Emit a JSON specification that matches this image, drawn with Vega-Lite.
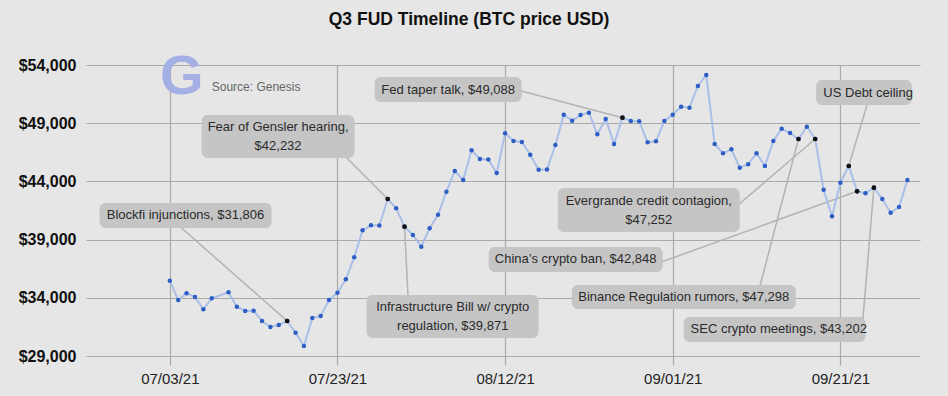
{
  "$schema": "https://vega.github.io/schema/vega-lite/v6.json",
  "width": 834,
  "height": 291,
  "autosize": {"type": "none"},
  "padding": {"left": 86, "top": 65, "right": 28, "bottom": 40},
  "background": "#e6e6e6",
  "title": {
    "text": "Q3 FUD Timeline (BTC price USD)",
    "font": "Liberation Sans",
    "fontSize": 17.5,
    "fontWeight": "bold",
    "color": "#111111",
    "anchor": "middle",
    "frame": "bounds",
    "offset": 20
  },
  "config": {
    "view": {"stroke": null},
    "font": "Liberation Sans",
    "axisX": {
      "grid": true, "gridColor": "#aaaaaa", "gridWidth": 1.2,
      "domain": false, "ticks": true, "tickColor": "#aaaaaa", "tickWidth": 1.2, "tickSize": 9,
      "labelFont": "Liberation Sans", "labelFontSize": 15, "labelColor": "#222222", "labelPadding": 6,
      "title": null
    },
    "axisY": {
      "grid": true, "gridColor": "#aaaaaa", "gridWidth": 1.2,
      "domain": false, "ticks": false, "tickSize": 0,
      "labelFont": "Liberation Sans", "labelFontSize": 16, "labelFontWeight": "bold", "labelColor": "#111111", "labelPadding": 10,
      "title": null
    }
  },
  "datasets": {
    "btc": [
      {"date": "2021-07-03", "price": 35469},
      {"date": "2021-07-04", "price": 33811},
      {"date": "2021-07-05", "price": 34387},
      {"date": "2021-07-06", "price": 34069},
      {"date": "2021-07-07", "price": 33012},
      {"date": "2021-07-08", "price": 33957},
      {"date": "2021-07-10", "price": 34473},
      {"date": "2021-07-11", "price": 33236},
      {"date": "2021-07-12", "price": 32866},
      {"date": "2021-07-13", "price": 32892},
      {"date": "2021-07-14", "price": 32007},
      {"date": "2021-07-15", "price": 31492},
      {"date": "2021-07-16", "price": 31663},
      {"date": "2021-07-17", "price": 32007},
      {"date": "2021-07-18", "price": 31002},
      {"date": "2021-07-19", "price": 29859},
      {"date": "2021-07-20", "price": 32265},
      {"date": "2021-07-21", "price": 32437},
      {"date": "2021-07-22", "price": 33811},
      {"date": "2021-07-23", "price": 34438},
      {"date": "2021-07-24", "price": 35589},
      {"date": "2021-07-25", "price": 37479},
      {"date": "2021-07-26", "price": 39799},
      {"date": "2021-07-27", "price": 40229},
      {"date": "2021-07-28", "price": 40214},
      {"date": "2021-07-29", "price": 42488},
      {"date": "2021-07-30", "price": 41689},
      {"date": "2021-07-31", "price": 40108},
      {"date": "2021-08-01", "price": 39395},
      {"date": "2021-08-02", "price": 38390},
      {"date": "2021-08-03", "price": 39971},
      {"date": "2021-08-04", "price": 41139},
      {"date": "2021-08-05", "price": 43115},
      {"date": "2021-08-06", "price": 44894},
      {"date": "2021-08-07", "price": 44120},
      {"date": "2021-08-08", "price": 46672},
      {"date": "2021-08-09", "price": 45924},
      {"date": "2021-08-10", "price": 45890},
      {"date": "2021-08-11", "price": 44722},
      {"date": "2021-08-12", "price": 48132},
      {"date": "2021-08-13", "price": 47471},
      {"date": "2021-08-14", "price": 47385},
      {"date": "2021-08-15", "price": 46294},
      {"date": "2021-08-16", "price": 45005},
      {"date": "2021-08-17", "price": 45030},
      {"date": "2021-08-18", "price": 47127},
      {"date": "2021-08-19", "price": 49730},
      {"date": "2021-08-20", "price": 49215},
      {"date": "2021-08-21", "price": 49710},
      {"date": "2021-08-22", "price": 49902},
      {"date": "2021-08-23", "price": 48046},
      {"date": "2021-08-24", "price": 49361},
      {"date": "2021-08-25", "price": 47213},
      {"date": "2021-08-26", "price": 49473},
      {"date": "2021-08-27", "price": 49189},
      {"date": "2021-08-28", "price": 49170},
      {"date": "2021-08-29", "price": 47359},
      {"date": "2021-08-30", "price": 47445},
      {"date": "2021-08-31", "price": 49189},
      {"date": "2021-09-01", "price": 49730},
      {"date": "2021-09-02", "price": 50418},
      {"date": "2021-09-03", "price": 50332},
      {"date": "2021-09-04", "price": 52196},
      {"date": "2021-09-05", "price": 53141},
      {"date": "2021-09-06", "price": 47213},
      {"date": "2021-09-07", "price": 46414},
      {"date": "2021-09-08", "price": 46758},
      {"date": "2021-09-09", "price": 45177},
      {"date": "2021-09-10", "price": 45469},
      {"date": "2021-09-11", "price": 46414},
      {"date": "2021-09-12", "price": 45323},
      {"date": "2021-09-13", "price": 47471},
      {"date": "2021-09-14", "price": 48528},
      {"date": "2021-09-15", "price": 48158},
      {"date": "2021-09-16", "price": 47643},
      {"date": "2021-09-17", "price": 48699},
      {"date": "2021-09-18", "price": 47643},
      {"date": "2021-09-19", "price": 43287},
      {"date": "2021-09-20", "price": 41002},
      {"date": "2021-09-21", "price": 43888},
      {"date": "2021-09-22", "price": 45323},
      {"date": "2021-09-23", "price": 43150},
      {"date": "2021-09-24", "price": 42978},
      {"date": "2021-09-25", "price": 43459},
      {"date": "2021-09-26", "price": 42488},
      {"date": "2021-09-27", "price": 41311},
      {"date": "2021-09-28", "price": 41801},
      {"date": "2021-09-29", "price": 44120}
    ],
    "events": [
      {"label": "Blockfi injunctions, $31,806", "tx": "2021-07-04T21:00Z", "ty": 41071, "bx1": "2021-06-24T15:00Z", "bx2": "2021-07-15T03:30Z", "by1": 42144, "by2": 39997, "lx": "2021-07-02T17:00Z", "ly": 41071, "ex": "2021-07-17", "ey": 32007},
      {"label": "Fear of Gensler hearing,\n$42,232", "tx": "2021-07-15T22:00Z", "ty": 48674, "bx1": "2021-07-06T19:00Z", "bx2": "2021-07-25T01:00Z", "by1": 49705, "by2": 46010, "lx": "2021-07-21T14:00Z", "ly": 47857, "ex": "2021-07-29", "ey": 42488},
      {"label": "Fed taper talk, $49,088", "tx": "2021-08-05T05:00Z", "ty": 51895, "bx1": "2021-07-27T10:30Z", "bx2": "2021-08-13T23:30Z", "by1": 52969, "by2": 50821, "lx": "2021-08-11T09:00Z", "ly": 52256, "ex": "2021-08-26", "ey": 49473},
      {"label": "Infrastructure Bill w/ crypto\nregulation, $39,871", "tx": "2021-08-05T18:00Z", "ty": 33184, "bx1": "2021-07-26T11:30Z", "bx2": "2021-08-16T00:00Z", "by1": 34241, "by2": 30547, "lx": "2021-07-31T13:00Z", "ly": 32394, "ex": "2021-07-31", "ey": 40108},
      {"label": "Evergrande credit contagion,\n$47,252", "tx": "2021-08-29T03:30Z", "ty": 42342, "bx1": "2021-08-18T06:45Z", "bx2": "2021-09-09T00:00Z", "by1": 43433, "by2": 39653, "lx": "2021-09-07T19:00Z", "ly": 41354, "ex": "2021-09-18", "ey": 47643},
      {"label": "China’s crypto ban, $42,848", "tx": "2021-08-20T10:00Z", "ty": 37291, "bx1": "2021-08-10T01:00Z", "bx2": "2021-08-30T19:30Z", "by1": 38364, "by2": 36217, "lx": "2021-08-29T01:30Z", "ly": 36663, "ex": "2021-09-23", "ey": 43150},
      {"label": "Binance Regulation rumors, $47,298", "tx": "2021-09-02T07:30Z", "ty": 34069, "bx1": "2021-08-19T23:00Z", "bx2": "2021-09-15T16:30Z", "by1": 35100, "by2": 33038, "lx": "2021-09-11T01:30Z", "ly": 34069, "ex": "2021-09-16", "ey": 47643},
      {"label": "SEC crypto meetings, $43,202", "tx": "2021-09-13T15:30Z", "ty": 31277, "bx1": "2021-09-02T07:30Z", "bx2": "2021-09-24T00:00Z", "by1": 32351, "by2": 30203, "lx": "2021-09-23T14:00Z", "ly": 31277, "ex": "2021-09-25", "ey": 43459},
      {"label": "US Debt ceiling", "tx": "2021-09-24T07:30Z", "ty": 51637, "bx1": "2021-09-18T02:30Z", "bx2": "2021-09-29T12:30Z", "by1": 52711, "by2": 50564, "lx": "2021-09-24T15:00Z", "ly": 51637, "ex": "2021-09-22", "ey": 45323}
    ],
    "logo": [
      {"glyph": "G", "date": "2021-07-04T10:00Z", "value": 51509}
    ],
    "source": [
      {"note": "Source: Genesis", "date": "2021-07-08T00:00Z", "value": 51766}
    ]
  },
  "layer": [
    {
      "data": {"name": "events"},
      "mark": {"type": "rule", "color": "#b3b3b3", "strokeWidth": 1.5},
      "encoding": {
        "x": {
          "field": "lx", "type": "temporal", "title": null,
          "scale": {"type": "utc", "domain": [{"year": 2021, "month": 6, "date": 23, "utc": true}, {"year": 2021, "month": 9, "date": 30, "hours": 12, "utc": true}]},
          "axis": {
            "values": [
              {"year": 2021, "month": 7, "date": 3, "utc": true},
              {"year": 2021, "month": 7, "date": 23, "utc": true},
              {"year": 2021, "month": 8, "date": 12, "utc": true},
              {"year": 2021, "month": 9, "date": 1, "utc": true},
              {"year": 2021, "month": 9, "date": 21, "utc": true}
            ],
            "format": "%m/%d/%y"
          }
        },
        "y": {
          "field": "ly", "type": "quantitative", "title": null,
          "scale": {"domain": [29000, 54000], "nice": false, "zero": false},
          "axis": {"values": [29000, 34000, 39000, 44000, 49000, 54000], "format": "$,.0f"}
        },
        "x2": {"field": "ex"},
        "y2": {"field": "ey"}
      }
    },
    {
      "data": {"name": "btc"},
      "mark": {"type": "line", "color": "#a9bfe8", "strokeWidth": 2},
      "encoding": {
        "x": {"field": "date", "type": "temporal", "title": null},
        "y": {"field": "price", "type": "quantitative", "title": null}
      }
    },
    {
      "data": {"name": "btc"},
      "mark": {"type": "circle", "color": "#2d5ec6", "size": 20, "opacity": 1},
      "encoding": {
        "x": {"field": "date", "type": "temporal", "title": null},
        "y": {"field": "price", "type": "quantitative", "title": null}
      }
    },
    {
      "data": {"name": "events"},
      "mark": {"type": "circle", "color": "#111111", "size": 22, "opacity": 1},
      "encoding": {
        "x": {"field": "ex", "type": "temporal", "title": null},
        "y": {"field": "ey", "type": "quantitative", "title": null}
      }
    },
    {
      "data": {"name": "events"},
      "mark": {"type": "rect", "color": "#c5c5c5", "cornerRadius": 6},
      "encoding": {
        "x": {"field": "bx1", "type": "temporal", "title": null},
        "x2": {"field": "bx2"},
        "y": {"field": "by1", "type": "quantitative", "title": null},
        "y2": {"field": "by2"}
      }
    },
    {
      "data": {"name": "events"},
      "mark": {"type": "text", "font": "Liberation Sans", "fontSize": 13, "color": "#2a2a2a", "lineBreak": "\n", "lineHeight": 19, "align": "center", "baseline": "middle"},
      "encoding": {
        "x": {"field": "tx", "type": "temporal", "title": null},
        "y": {"field": "ty", "type": "quantitative", "title": null},
        "text": {"field": "label", "type": "nominal"}
      }
    },
    {
      "data": {"name": "logo"},
      "mark": {"type": "text", "font": "Liberation Sans", "fontSize": 56, "fontWeight": "bold", "color": "#a4afe3", "align": "center", "baseline": "alphabetic"},
      "encoding": {
        "x": {"field": "date", "type": "temporal", "title": null},
        "y": {"field": "value", "type": "quantitative", "title": null},
        "text": {"field": "glyph", "type": "nominal"}
      }
    },
    {
      "data": {"name": "source"},
      "mark": {"type": "text", "font": "Liberation Sans", "fontSize": 12, "color": "#666666", "align": "left", "baseline": "alphabetic"},
      "encoding": {
        "x": {"field": "date", "type": "temporal", "title": null},
        "y": {"field": "value", "type": "quantitative", "title": null},
        "text": {"field": "note", "type": "nominal"}
      }
    }
  ]
}
